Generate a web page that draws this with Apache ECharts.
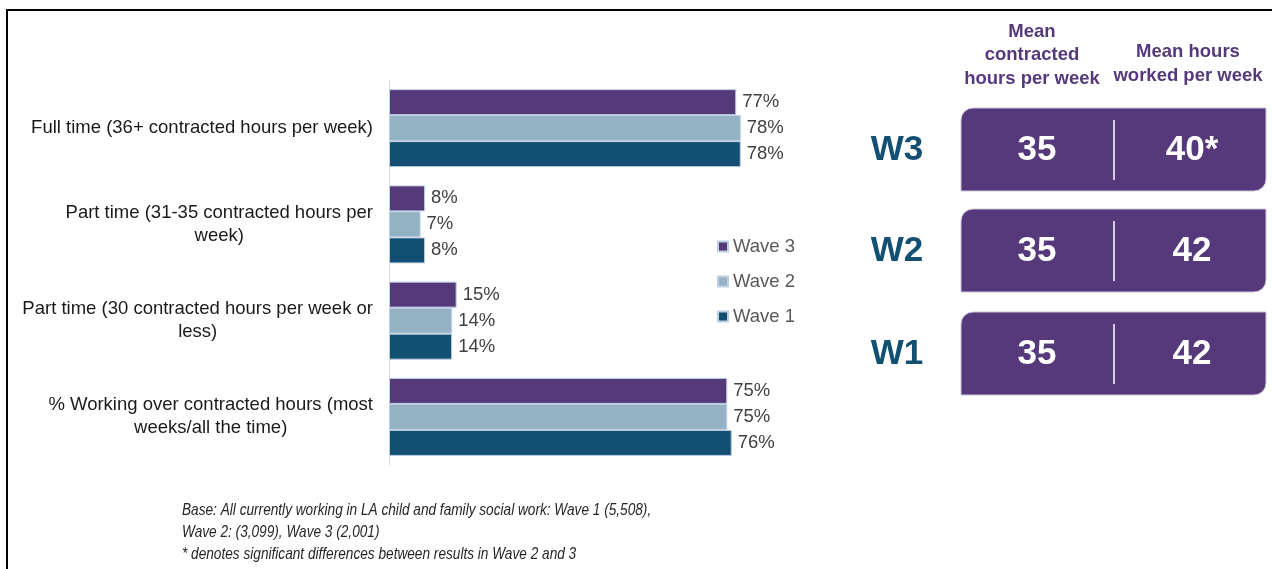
<!DOCTYPE html>
<html>
<head>
<meta charset="utf-8">
<script src="https://cdn.jsdelivr.net/npm/echarts@6/dist/echarts.min.js"></script>
<style>
  html, body { margin: 0; padding: 0; background: #fff; }
  #main { width: 1272px; height: 569px; }
</style>
</head>
<body>
<div id="main"></div>
<script>
var categories = [
  'Full time (36+ contracted hours per week)',
  'Part time (31-35 contracted hours per\nweek)',
  'Part time (30 contracted hours per week or\nless)',
  '% Working over contracted hours (most\nweeks/all the time)'
]
var wave3 = [77, 8, 15, 75]
var wave2 = [78, 7, 14, 75]
var wave1 = [78, 8, 14, 76]

var waveLabels = ['W3', 'W2', 'W1']
var contractedHours = ['35', '35', '35']
var workedHours = ['40*', '42', '42']

var FONT = '"Liberation Sans", Arial, sans-serif'
var PURPLE = '#55397A'
var LIGHT = '#95B1C4'
var DARK = '#124F73'

var myChart = echarts.init(document.getElementById('main'))

function barSeries(name, data, color) {
  return {
    name: name,
    type: 'bar',
    data: data,
    barWidth: 26,
    barGap: '0%',
    itemStyle: { color: color, borderColor: '#bcd0e2', borderWidth: 1 },
    label: {
      show: true,
      position: 'right',
      distance: 6,
      formatter: '{c}%',
      color: '#404040',
      fontFamily: FONT,
      fontSize: 18.5
    }
  }
}

// right hand panel: boxes with mean hours
function buildGraphics() {
  var graphics = []
  var boxTops = [108, 209, 312]
  var boxH = 83
  for (var i = 0; i < waveLabels.length; i++) {
    var by = boxTops[i]
    var cy = by + boxH / 2
    graphics.push({
      type: 'rect',
      shape: { x: 961, y: by, width: 305, height: boxH, r: [12, 0, 12, 0] },
      style: { fill: PURPLE, stroke: '#cbc6dc', lineWidth: 1 }
    })
    graphics.push({
      type: 'line',
      shape: { x1: 1114, y1: by + 12, x2: 1114, y2: by + boxH - 11 },
      style: { stroke: '#fff', lineWidth: 1.5 }
    })
    graphics.push({
      type: 'text', x: 897, y: cy + 1,
      style: { text: waveLabels[i], fill: DARK, font: 'bold 35px ' + FONT, align: 'center', verticalAlign: 'middle' }
    })
    graphics.push({
      type: 'text', x: 1037, y: cy + 1,
      style: { text: contractedHours[i], fill: '#fff', font: 'bold 35px ' + FONT, align: 'center', verticalAlign: 'middle' }
    })
    graphics.push({
      type: 'text', x: 1192, y: cy + 1,
      style: { text: workedHours[i], fill: '#fff', font: 'bold 35px ' + FONT, align: 'center', verticalAlign: 'middle' }
    })
  }
  graphics.push({
    type: 'text', x: 1032, y: 55,
    style: { text: 'Mean\ncontracted\nhours per week', fill: PURPLE, font: 'bold 18.5px ' + FONT, lineHeight: 23.5, align: 'center', verticalAlign: 'middle' }
  })
  graphics.push({
    type: 'text', x: 1188, y: 64,
    style: { text: 'Mean hours\nworked per week', fill: PURPLE, font: 'bold 18.5px ' + FONT, lineHeight: 23.5, align: 'center', verticalAlign: 'middle' }
  })
  // footnote, squeezed horizontally to look like a narrow face
  graphics.push({
    type: 'text', x: 182, y: 532, scaleX: 0.827,
    style: {
      text: 'Base: All currently working in LA child and family social work: Wave 1 (5,508),\nWave 2: (3,099), Wave 3 (2,001)\n* denotes significant differences between results in Wave 2 and 3',
      fill: '#262626', font: 'italic 16.5px ' + FONT, lineHeight: 22, align: 'left', verticalAlign: 'middle'
    }
  })
  // frame lines
  graphics.push({
    type: 'polyline',
    shape: { points: [[7, 569], [7, 10], [1272, 10]] },
    style: { stroke: '#000', lineWidth: 2, fill: 'none' }
  })
  return graphics
}

let option = {
  animation: false,
  textStyle: { fontFamily: FONT },
  grid: { left: 389, right: 432, top: 80, bottom: 104 },
  legend: {
    data: ['Wave 3', 'Wave 2', 'Wave 1'],
    orient: 'vertical',
    left: 712,
    top: 232,
    itemWidth: 10,
    itemHeight: 10,
    itemGap: 16,
    icon: 'rect',
    textStyle: { color: '#595959', fontSize: 18.5, fontFamily: FONT }
  },
  xAxis: {
    type: 'value',
    min: 0,
    max: 100,
    show: false
  },
  yAxis: {
    type: 'category',
    inverse: true,
    data: categories,
    axisLine: { show: true, lineStyle: { color: '#d9d9d9', width: 1 } },
    axisTick: { show: false },
    axisLabel: {
      margin: 16,
      color: '#1a1a1a',
      formatter: function (v) {
        return v.split('\n').map(function (s) { return '{c|' + s + '}' }).join('\n')
      },
      rich: { c: { align: 'center', fontSize: 18.5, fontFamily: FONT, color: '#1a1a1a', lineHeight: 23 } }
    }
  },
  series: [
    barSeries('Wave 3', wave3, PURPLE),
    barSeries('Wave 2', wave2, LIGHT),
    barSeries('Wave 1', wave1, DARK)
  ],
  graphic: buildGraphics()
}
myChart.setOption(option)
</script>
</body>
</html>
